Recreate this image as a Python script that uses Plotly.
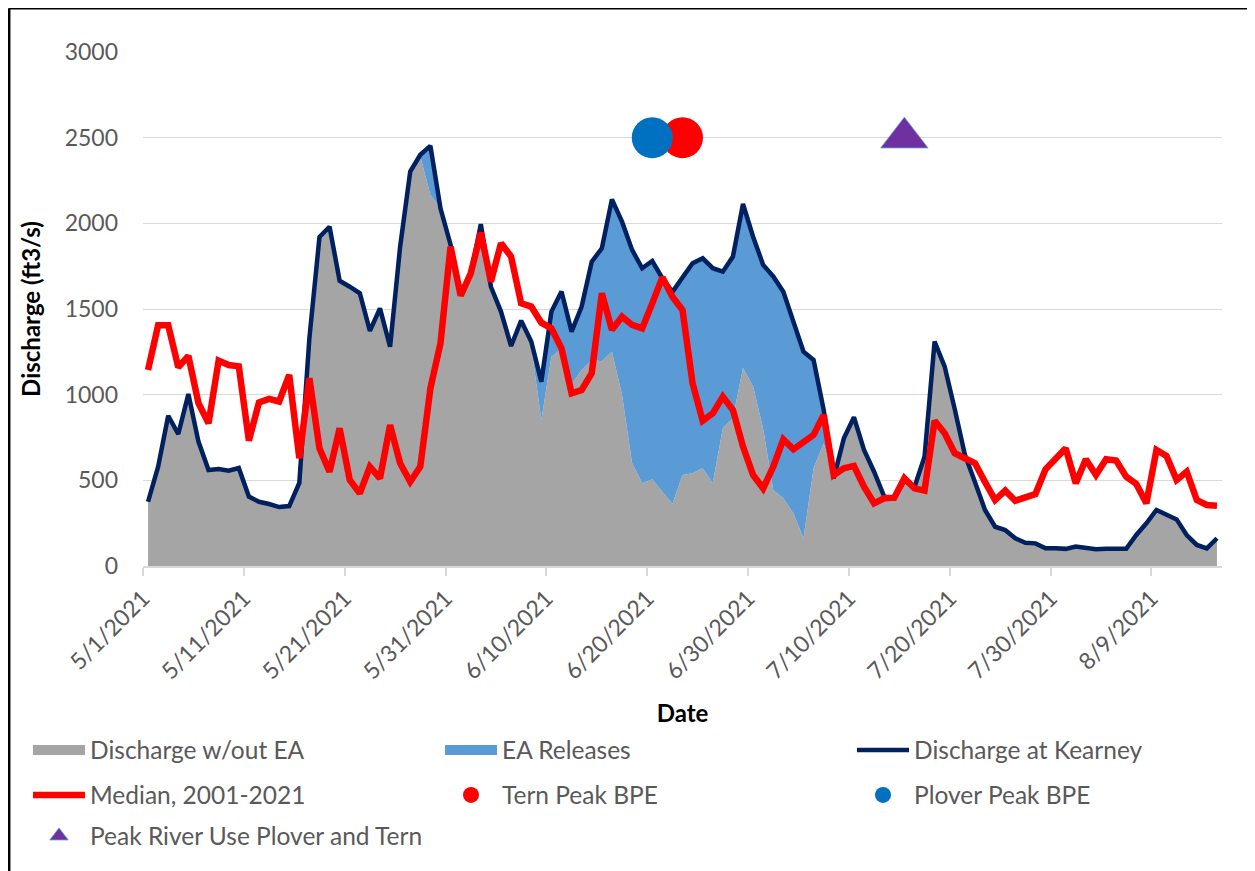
import pandas as pd
import plotly.graph_objects as go

# ---------------- data ----------------
n_days = 107
dates = pd.date_range("2021-05-01", periods=n_days, freq="D")

kearney = [375, 580, 877, 770, 1004, 726, 560, 566, 556, 572,
           405, 375, 362, 344, 350, 485, 1330, 1920, 1980, 1665,
           1630, 1592, 1372, 1504, 1280, 1864, 2302, 2400, 2452, 2088,
           1875, 1590, 1700, 1995, 1630, 1485, 1284, 1432, 1310, 1076,
           1485, 1602, 1368, 1514, 1776, 1854, 2140, 2010, 1845, 1738,
           1780, 1680, 1600, 1680, 1767, 1796, 1738, 1718, 1806, 2113,
           1922, 1757, 1690, 1601, 1426, 1251, 1202, 911, 512, 745,
           868, 677, 550, 405, 395, 500, 460, 638, 1310, 1164,
           915, 650, 490, 327, 229, 210, 162, 136, 132, 103,
           103, 100, 113, 105, 98, 100, 100, 100, 181, 249,
           327, 298, 272, 181, 123, 103, 162]

without_ea = [375, 580, 877, 770, 1004, 726, 560, 566, 556, 572,
              405, 375, 362, 344, 350, 485, 1330, 1920, 1980, 1665,
              1630, 1592, 1372, 1504, 1280, 1864, 2302, 2390, 2165, 2088,
              1875, 1590, 1700, 1995, 1630, 1485, 1284, 1432, 1280, 852,
              1222, 1270, 1060, 1144, 1202, 1195, 1251, 1000, 600, 483,
              506, 434, 362, 531, 541, 570, 483, 804, 862, 1155,
              1047, 800, 444, 395, 307, 162, 570, 716, 512, 745,
              868, 677, 550, 405, 395, 500, 460, 638, 1310, 1164,
              915, 650, 490, 327, 229, 210, 162, 136, 132, 103,
              103, 100, 113, 105, 98, 100, 100, 100, 181, 249,
              327, 298, 272, 181, 123, 103, 162]

median_2001_2021 = [1144, 1405, 1405, 1160, 1226, 950, 833, 1199, 1173, 1165,
                    732, 954, 975, 960, 1115, 629, 1096, 687, 550, 804,
                    502, 424, 580, 512, 823, 599, 492, 580, 1037, 1300,
                    1864, 1578, 1708, 1946, 1660, 1884, 1806, 1533, 1514, 1420,
                    1387, 1270, 1008, 1027, 1125, 1592, 1378, 1455, 1407, 1387,
                    1533, 1685, 1572, 1494, 1066, 848, 891, 988, 911, 697,
                    531, 453, 580, 739, 681, 726, 765, 882, 531, 570,
                    584, 463, 366, 395, 399, 512, 453, 440, 848, 775,
                    658, 629, 600, 490, 385, 440, 381, 401, 420, 564,
                    619, 687, 483, 623, 531, 623, 615, 521, 479, 366,
                    677, 642, 502, 550, 385, 356, 352]

ea_releases = [k - w for k, w in zip(kearney, without_ea)]

tern_peak_date = ["2021-06-23"]
tern_peak_value = [2500]
plover_peak_date = ["2021-06-20"]
plover_peak_value = [2500]
river_use_date = ["2021-07-15"]
river_use_value = [2500]

tick_dates = pd.date_range("2021-05-01", "2021-08-09", freq="10D")
tick_labels = [f"{d.month}/{d.day}/{d.year}" for d in tick_dates]

# ---------------- styling ----------------
FONT = "Lato"
GREY_TXT = "#595959"
OFF = 8                      # page offset of the figure inside the window
W, H = 1255 - OFF, 871 - OFF
L, R, T, B = 143 - OFF, 33, 52 - OFF, 305
PW, PH = W - L - R, H - T - B

half_day = pd.Timedelta(hours=12)   # Excel plots each daily value mid-way between ticks
x_days = dates + half_day


def mid(d):
    return [pd.Timestamp(v) + half_day for v in d]


def px_x(px):   # screen pixel -> paper x
    return (px - OFF - L) / PW


def px_y(py):   # screen pixel -> paper y
    return (H - B - (py - OFF)) / PH


fig = go.Figure()
# filled areas (legend entries drawn by the swatch traces below)
fig.add_trace(go.Scatter(x=x_days, y=without_ea, name="Discharge w/out EA",
                         stackgroup="flow", mode="none", fillcolor="#A5A5A5",
                         showlegend=False))
fig.add_trace(go.Scatter(x=x_days, y=ea_releases, name="EA Releases",
                         stackgroup="flow", mode="none", fillcolor="#5B9BD5",
                         showlegend=False))
# legend swatches for the areas
fig.add_trace(go.Scatter(x=[None], y=[None], name="Discharge w/out EA", mode="lines",
                         line=dict(color="#A5A5A5", width=14),
                         legend="legend", legendwidth=345))
fig.add_trace(go.Scatter(x=[None], y=[None], name="EA Releases", mode="lines",
                         line=dict(color="#5B9BD5", width=14),
                         legend="legend", legendwidth=345))
fig.add_trace(go.Scatter(x=x_days, y=kearney, name="Discharge at Kearney",
                         mode="lines", line=dict(color="#002060", width=4.5),
                         legend="legend", legendwidth=250))
fig.add_trace(go.Scatter(x=x_days, y=median_2001_2021, name="Median, 2001-2021",
                         mode="lines", line=dict(color="#FF0000", width=6.5),
                         legend="legend2", legendwidth=345))
fig.add_trace(go.Scatter(x=mid(tern_peak_date), y=tern_peak_value, name="Tern Peak BPE",
                         mode="markers", marker=dict(color="#FF0000", size=41),
                         legend="legend2", legendwidth=345))
fig.add_trace(go.Scatter(x=mid(plover_peak_date), y=plover_peak_value, name="Plover Peak BPE",
                         mode="markers", marker=dict(color="#0070C0", size=41),
                         legend="legend2", legendwidth=250))
fig.add_trace(go.Scatter(x=mid(river_use_date), y=river_use_value,
                         name="Peak River Use Plover and Tern",
                         mode="markers",
                         marker=dict(color="#7030A0", size=41, symbol="triangle-up",
                                     line=dict(color="#5B9BD5", width=0.8)),
                         legend="legend3", legendwidth=345))

legend_common = dict(orientation="h", traceorder="normal",
                     font=dict(family=FONT, size=24.5, color=GREY_TXT),
                     itemwidth=52, xanchor="left", yanchor="middle",
                     bgcolor="rgba(0,0,0,0)", borderwidth=0, x=px_x(28))

fig.update_layout(
    width=W, height=H,
    margin=dict(l=L, r=R, t=T, b=B, autoexpand=False),
    paper_bgcolor="white", plot_bgcolor="white",
    font=dict(family=FONT, color=GREY_TXT),
    showlegend=True,
    legend=dict(legend_common, y=px_y(750)),
    legend2=dict(legend_common, y=px_y(795)),
    legend3=dict(legend_common, y=px_y(836)),
    xaxis=dict(type="date", range=["2021-05-01", "2021-08-16"],
               tickvals=list(tick_dates), ticktext=tick_labels, tickangle=-45,
               tickfont=dict(family=FONT, size=23, color=GREY_TXT),
               showgrid=False, zeroline=False,
               showline=True, linecolor="#D9D9D9", linewidth=1.5,
               ticks="outside", ticklen=8, tickcolor="#D9D9D9", tickwidth=1.5,
               title=dict(text="<b>Date</b>", font=dict(family=FONT, size=24, color="black"),
                          standoff=22),
               automargin=False),
    yaxis=dict(range=[0, 3000], tick0=0, dtick=500,
               tickfont=dict(family=FONT, size=23, color=GREY_TXT),
               showgrid=True, gridcolor="#D9D9D9", gridwidth=1.3,
               showline=False, zeroline=False, ticks="", ticklabelstandoff=24,
               title=dict(text="<b>Discharge (ft3/s)</b>",
                          font=dict(family=FONT, size=24, color="black"), standoff=17),
               automargin=False),
)

# outer chart border (left and top edges visible in the frame)
border = dict(color="black", width=2.5)
fig.add_shape(type="line", xref="paper", yref="paper",
              x0=px_x(9.2), x1=px_x(9.2), y0=px_y(8.2), y1=px_y(900), line=border)
fig.add_shape(type="line", xref="paper", yref="paper",
              x0=px_x(9.2), x1=px_x(1300), y0=px_y(8.2), y1=px_y(8.2), line=border)

fig.write_html("out.html")
